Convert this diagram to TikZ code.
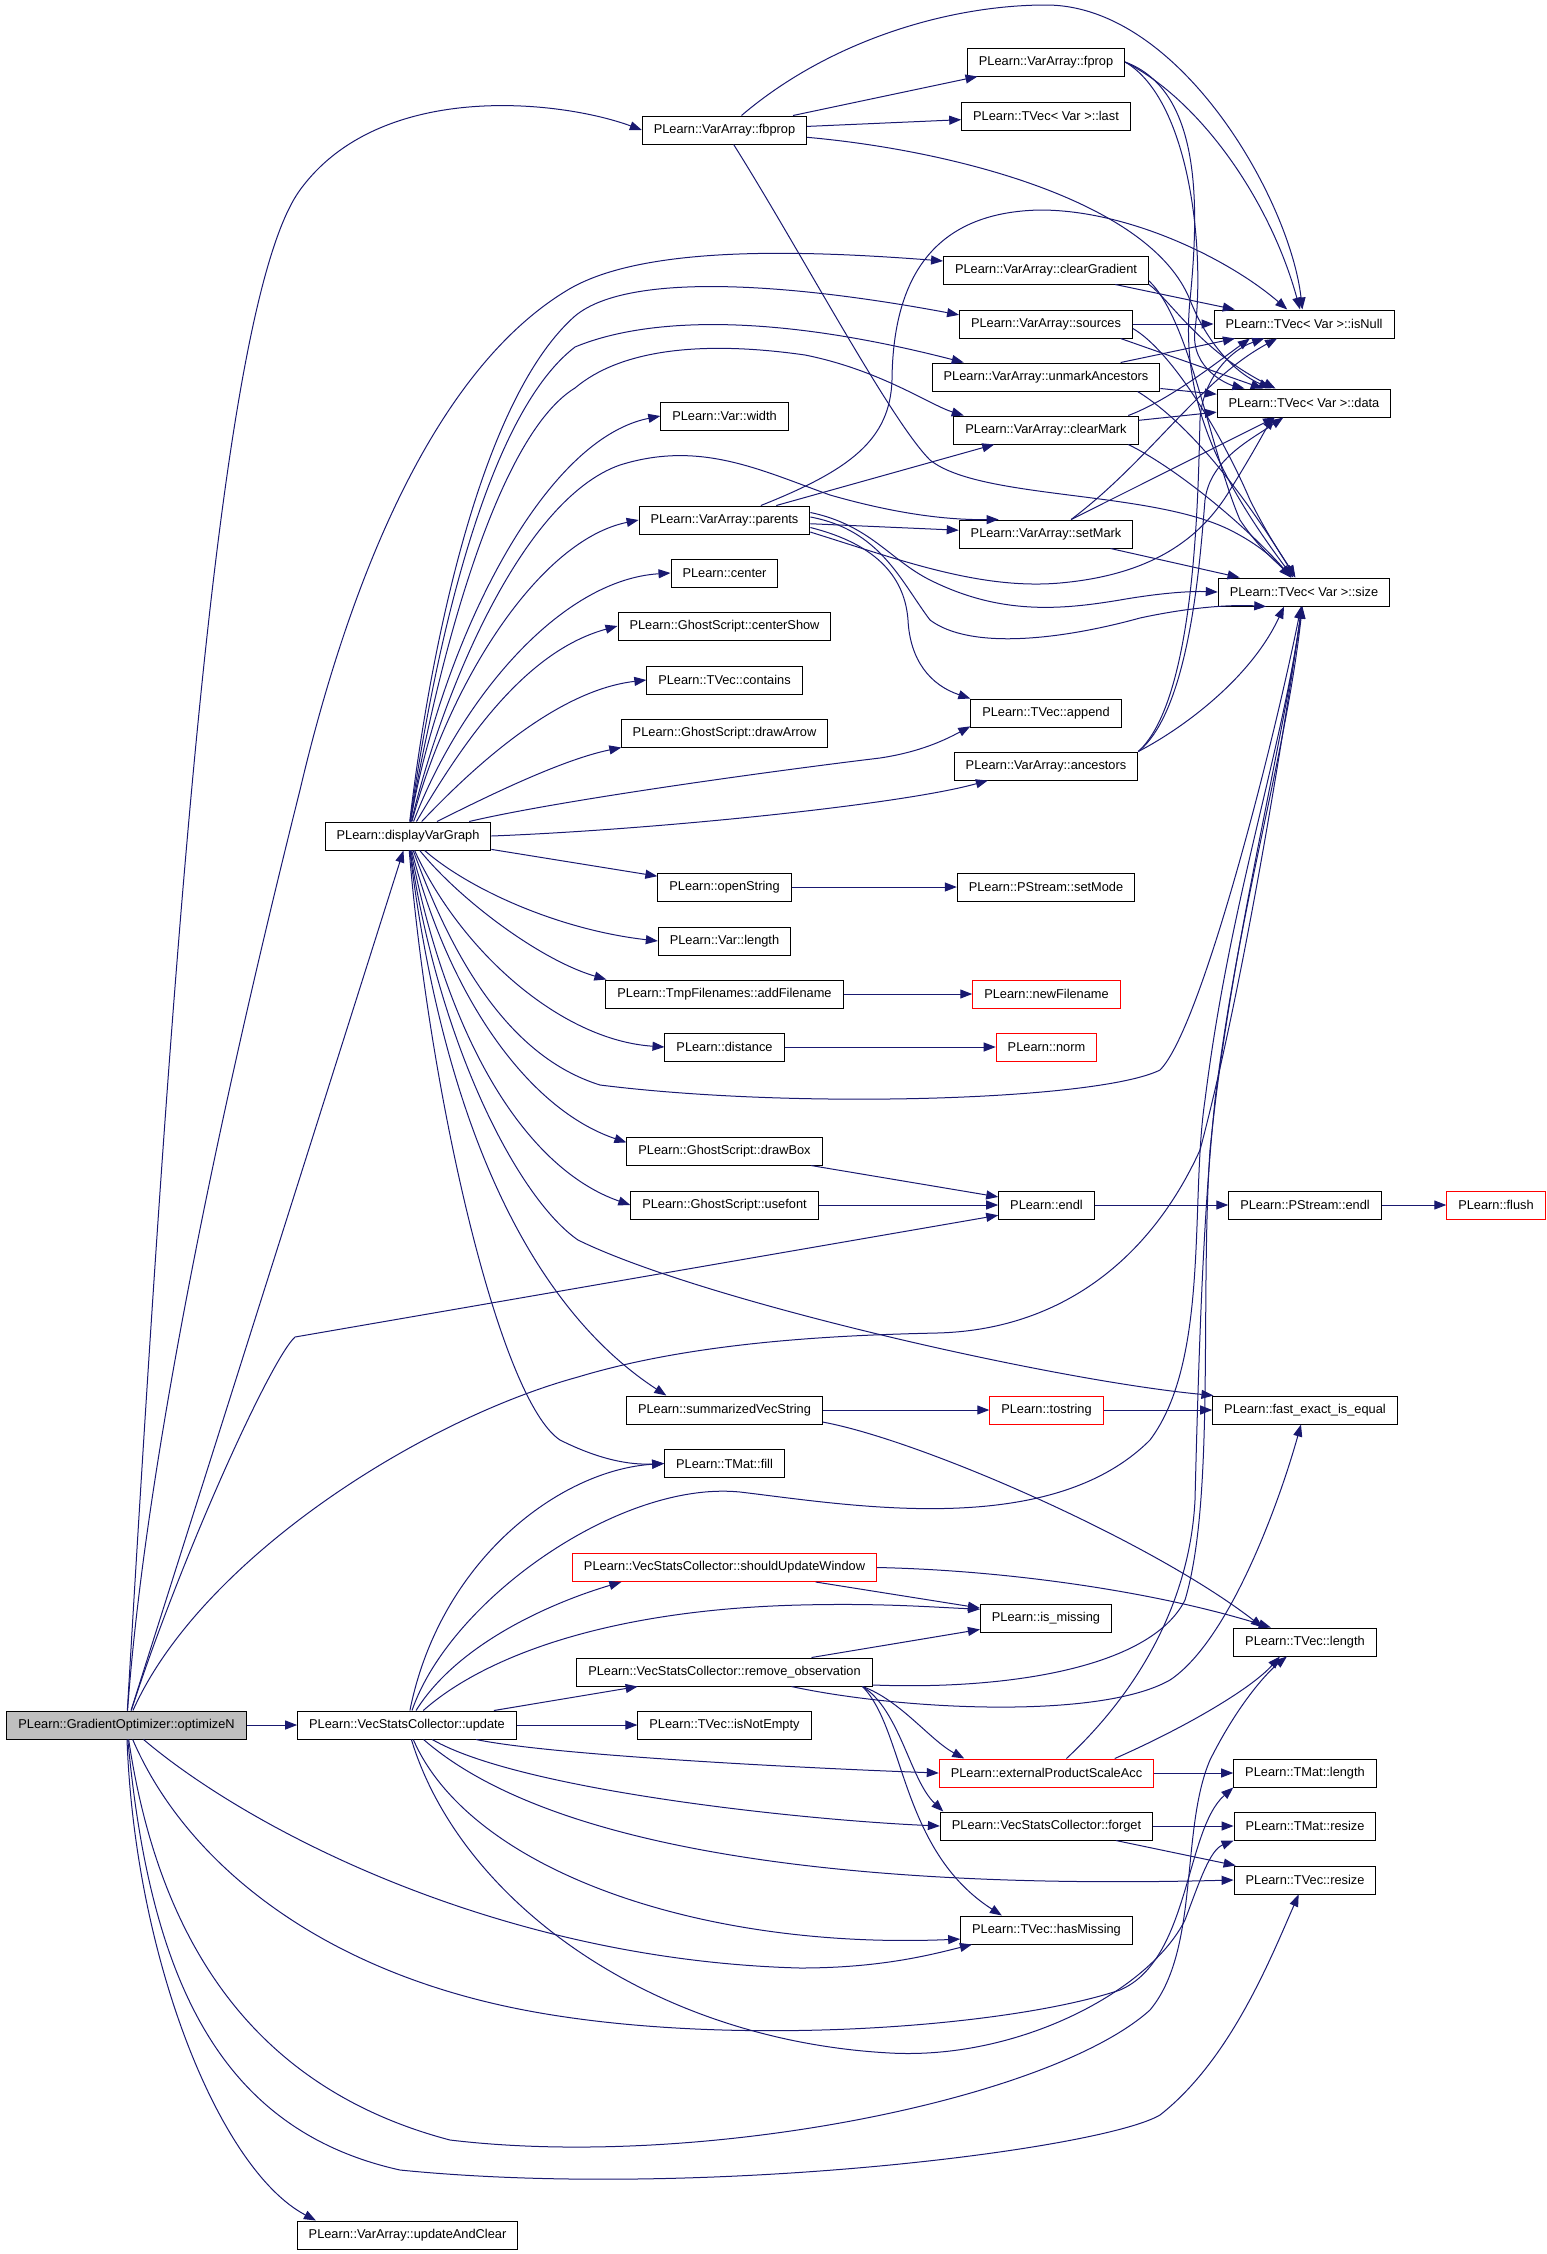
\documentclass[tikz,border=0pt]{standalone}
\usepackage{fontspec}
\setmainfont{Liberation Sans}
\usetikzlibrary{arrows.meta}
\definecolor{edgeblue}{RGB}{25,25,112}
\definecolor{rootgray}{RGB}{191,191,191}
\begin{document}
\begin{tikzpicture}[x=1pt, y=-1pt,
  fn/.style={draw, line width=1pt, minimum height=28pt, inner xsep=11.5pt, inner ysep=0pt, font=\fontsize{12.8}{14}\selectfont},
  trunc/.style={fn, draw=red},
  root/.style={fn, fill=rootgray},
  call/.style={draw=edgeblue, line width=1pt, -{Triangle[length=12pt, width=9pt]}}]
    \useasboundingbox (0,0) rectangle (1547,2254);
    \node[root] (opt) at (126.5,1725) {PLearn::GradientOptimizer::optimizeN};
    \node[fn] (fbp) at (724.5,130) {PLearn::VarArray::fbprop};
    \node[fn] (fpr) at (1046,62) {PLearn::VarArray::fprop};
    \node[fn] (lst) at (1046,116) {PLearn::TVec< Var >::last};
    \node[fn] (cgr) at (1046,270) {PLearn::VarArray::clearGradient};
    \node[fn] (src) at (1046,324) {PLearn::VarArray::sources};
    \node[fn] (uma) at (1046,377) {PLearn::VarArray::unmarkAncestors};
    \node[fn] (cmk) at (1046,430) {PLearn::VarArray::clearMark};
    \node[fn] (isn) at (1304,324) {PLearn::TVec< Var >::isNull};
    \node[fn] (dat) at (1304,403) {PLearn::TVec< Var >::data};
    \node[fn] (wid) at (724.5,416) {PLearn::Var::width};
    \node[fn] (par) at (724.5,520) {PLearn::VarArray::parents};
    \node[fn] (smk) at (1046,534) {PLearn::VarArray::setMark};
    \node[fn] (ctr) at (724.5,573) {PLearn::center};
    \node[fn] (csh) at (724.5,626) {PLearn::GhostScript::centerShow};
    \node[fn] (cnt) at (724.5,680) {PLearn::TVec::contains};
    \node[fn] (dra) at (724.5,733) {PLearn::GhostScript::drawArrow};
    \node[fn] (app) at (1046,713) {PLearn::TVec::append};
    \node[fn] (anc) at (1046,766) {PLearn::VarArray::ancestors};
    \node[fn] (siz) at (1304,592) {PLearn::TVec< Var >::size};
    \node[fn] (dvg) at (408,836) {PLearn::displayVarGraph};
    \node[fn] (ops) at (724.5,887) {PLearn::openString};
    \node[fn] (smo) at (1046,887) {PLearn::PStream::setMode};
    \node[fn] (vln) at (724.5,941) {PLearn::Var::length};
    \node[fn] (adf) at (724.5,994) {PLearn::TmpFilenames::addFilename};
    \node[trunc] (nfn) at (1046.5,994) {PLearn::newFilename};
    \node[fn] (dst) at (724.5,1047) {PLearn::distance};
    \node[trunc] (nrm) at (1046.5,1047) {PLearn::norm};
    \node[fn] (dbx) at (724.5,1151) {PLearn::GhostScript::drawBox};
    \node[fn] (usf) at (724.5,1205) {PLearn::GhostScript::usefont};
    \node[fn] (edl) at (1046.5,1205) {PLearn::endl};
    \node[fn] (pen) at (1305,1205) {PLearn::PStream::endl};
    \node[trunc] (fls) at (1496,1205) {PLearn::flush};
    \node[fn] (svs) at (724.5,1410) {PLearn::summarizedVecString};
    \node[trunc] (tos) at (1046.5,1410) {PLearn::tostring};
    \node[fn] (fee) at (1305,1410) {PLearn::fast\_exact\_is\_equal};
    \node[fn] (fil) at (724.5,1463.5) {PLearn::TMat::fill};
    \node[trunc] (suw) at (724.5,1567.5) {PLearn::VecStatsCollector::shouldUpdateWindow};
    \node[fn] (ism) at (1046,1618.5) {PLearn::is\_missing};
    \node[fn] (tvl) at (1305,1642) {PLearn::TVec::length};
    \node[fn] (rob) at (724.5,1672) {PLearn::VecStatsCollector::remove\_observation};
    \node[fn] (upd) at (407,1725) {PLearn::VecStatsCollector::update};
    \node[fn] (ine) at (724.5,1725) {PLearn::TVec::isNotEmpty};
    \node[trunc] (eps) at (1046.5,1773) {PLearn::externalProductScaleAcc};
    \node[fn] (tml) at (1305,1773) {PLearn::TMat::length};
    \node[fn] (fgt) at (1046.5,1826) {PLearn::VecStatsCollector::forget};
    \node[fn] (tmr) at (1305,1826) {PLearn::TMat::resize};
    \node[fn] (tvr) at (1305,1880) {PLearn::TVec::resize};
    \node[fn] (hsm) at (1046.5,1930) {PLearn::TVec::hasMissing};
    \node[fn] (uac) at (407.5,2235) {PLearn::VarArray::updateAndClear};
    \draw[call] (opt) .. controls (175,900) and (220,300) .. (300,190) .. controls (380,80) and (560,100) .. (fbp.west);
    \draw[call] (opt) .. controls (150,1400) and (260,950) .. (300,790) .. controls (340,620) and (420,380) .. (566,291) .. controls (640,245) and (800,250) .. (cgr.175);
    \draw[call] (opt) -- (dvg);
    \draw[call] (opt) -- (upd);
    \draw[call] (opt) .. controls (180,1560) and (270,1360) .. (295,1337) -- (edl.192);
    \draw[call] (opt) .. controls (200,1560) and (420,1420) .. (578,1377) .. controls (700,1340) and (850,1335) .. (937,1333) .. controls (1060,1330) and (1150,1260) .. (1200,1150) .. controls (1240,1000) and (1280,760) .. (siz);
    \draw[call] (opt) .. controls (250,1830) and (500,1960) .. (800,1968) .. controls (880,1968) and (930,1955) .. (hsm.191);
    \draw[call] (opt) .. controls (180,1850) and (300,1960) .. (500,2005) .. controls (700,2050) and (1000,2030) .. (1120,1990) .. controls (1190,1960) and (1185,1830) .. (tml.south west);
    \draw[call] (opt) .. controls (160,1950) and (260,2090) .. (450,2140) .. controls (700,2170) and (1050,2100) .. (1150,2010) .. controls (1200,1950) and (1180,1830) .. (1210,1760) .. controls (1240,1700) and (1270,1670) .. (tvl);
    \draw[call] (opt) .. controls (150,1980) and (220,2130) .. (400,2170) .. controls (700,2200) and (1100,2150) .. (1160,2115) .. controls (1230,2060) and (1270,1960) .. (tvr);
    \draw[call] (opt) .. controls (135,1960) and (220,2170) .. (uac.171);
    \draw[call] (upd) .. controls (440,1560) and (560,1470) .. (fil.west);
    \draw[call] (upd) .. controls (450,1600) and (620,1480) .. (740,1492) .. controls (850,1505) and (1050,1540) .. (1150,1440) .. controls (1210,1360) and (1190,1200) .. (1205,1100) .. controls (1230,900) and (1280,760) .. (siz);
    \draw[call] (upd) .. controls (460,1640) and (560,1600) .. (suw.188);
    \draw[call] (upd) .. controls (480,1660) and (600,1610) .. (800,1605) .. controls (880,1603) and (930,1607) .. (ism.172);
    \draw[call] (upd) -- (rob);
    \draw[call] (upd) -- (ine);
    \draw[call] (upd) .. controls (550,1755) and (800,1768) .. (eps.west);
    \draw[call] (upd) .. controls (520,1790) and (800,1820) .. (fgt.west);
    \draw[call] (upd) .. controls (550,1850) and (850,1890) .. (tvr.west);
    \draw[call] (upd) .. controls (470,1870) and (700,1950) .. (hsm.186);
    \draw[call] (upd) .. controls (460,1900) and (650,2040) .. (890,2053) .. controls (1020,2060) and (1150,1990) .. (1185,1920) .. controls (1200,1880) and (1210,1850) .. (tmr.south west);
    \draw[call] (fbp) -- (fpr);
    \draw[call] (fbp) -- (lst);
    \draw[call] (fbp) .. controls (830,40) and (950,5) .. (1046,5) .. controls (1180,5) and (1290,200) .. (isn);
    \draw[call] (fbp) .. controls (950,150) and (1150,200) .. (1190,300) .. controls (1210,350) and (1240,375) .. (dat);
    \draw[call] (fbp) .. controls (800,250) and (890,420) .. (930,460) .. controls (980,500) and (1150,490) .. (1230,530) .. controls (1260,545) and (1275,560) .. (siz);
    \draw[call] (fpr.east) .. controls (1200,100) and (1270,200) .. (isn);
    \draw[call] (fpr.east) .. controls (1190,100) and (1205,250) .. (1195,330) .. controls (1190,370) and (1230,385) .. (dat);
    \draw[call] (fpr.east) .. controls (1200,90) and (1200,200) .. (1190,300) .. controls (1180,400) and (1220,480) .. (siz);
    \draw[call] (cgr) -- (isn);
    \draw[call] (cgr.-8) .. controls (1170,300) and (1200,350) .. (dat);
    \draw[call] (cgr.-6) .. controls (1190,320) and (1210,450) .. (1240,520) .. controls (1260,550) and (1280,565) .. (siz);
    \draw[call] (src) -- (isn);
    \draw[call] (src.-11) -- (dat);
    \draw[call] (src.-3) .. controls (1170,350) and (1220,430) .. (1250,500) .. controls (1270,540) and (1285,560) .. (siz);
    \draw[call] (uma.11) -- (isn);
    \draw[call] (uma) -- (dat);
    \draw[call] (uma.-9) .. controls (1200,430) and (1260,520) .. (siz);
    \draw[call] (cmk.10) .. controls (1170,400) and (1220,360) .. (isn.195);
    \draw[call] (cmk) -- (dat);
    \draw[call] (cmk.-10) .. controls (1180,470) and (1250,530) .. (siz);
    \draw[call] (smk.30) .. controls (1150,460) and (1200,380) .. (isn);
    \draw[call] (smk.30) -- (dat);
    \draw[call] (smk) -- (siz);
    \draw[call] (anc.north east) .. controls (1195,700) and (1198,500) .. (1200,420) .. controls (1202,380) and (1230,350) .. (isn.200);
    \draw[call] (anc.north east) .. controls (1190,710) and (1200,560) .. (1205,500) .. controls (1210,460) and (1250,440) .. (dat.215);
    \draw[call] (anc.north east) .. controls (1180,730) and (1250,680) .. (siz.216);
    \draw[call] (par) .. controls (850,470) and (890,440) .. (892,380) .. controls (893,270) and (940,212) .. (1040,210) .. controls (1130,210) and (1230,260) .. (isn);
    \draw[call] (par) -- (cmk);
    \draw[call] (par) -- (smk);
    \draw[call] (par.5) .. controls (870,525) and (890,560) .. (930,580) .. controls (1000,615) and (1060,610) .. (1120,600) .. controls (1160,593) and (1190,591) .. (siz.west);
    \draw[call] (par.2) .. controls (880,530) and (900,580) .. (930,620) .. controls (970,650) and (1060,640) .. (1140,618) .. controls (1200,605) and (1240,605) .. (siz.201);
    \draw[call] (par.-8) .. controls (900,560) and (980,590) .. (1060,583) .. controls (1150,575) and (1200,540) .. (1230,490) .. controls (1255,450) and (1265,430) .. (dat.206);
    \draw[call] (par.-5) .. controls (880,545) and (905,580) .. (908,620) .. controls (910,660) and (930,685) .. (app.north west);
    \draw[call] (dvg) .. controls (430,650) and (480,400) .. (575,316) .. controls (630,270) and (800,285) .. (src.174);
    \draw[call] (dvg) .. controls (430,680) and (480,420) .. (575,347) .. controls (640,320) and (760,310) .. (uma.170);
    \draw[call] (dvg) .. controls (430,700) and (490,440) .. (575,388) .. controls (620,350) and (700,340) .. (805,355) .. controls (880,370) and (930,405) .. (cmk.170);
    \draw[call] (dvg) .. controls (440,650) and (540,440) .. (wid.west);
    \draw[call] (dvg) .. controls (440,700) and (520,500) .. (620,465) .. controls (700,440) and (760,470) .. (830,495) .. controls (900,515) and (950,520) .. (smk.163);
    \draw[call] (dvg) .. controls (450,680) and (540,540) .. (par.west);
    \draw[call] (dvg) .. controls (460,700) and (560,580) .. (ctr.west);
    \draw[call] (dvg) .. controls (470,730) and (530,650) .. (csh.west);
    \draw[call] (dvg) .. controls (480,760) and (560,690) .. (cnt.west);
    \draw[call] (dvg) .. controls (480,800) and (560,760) .. (dra.188);
    \draw[call] (dvg) .. controls (560,800) and (780,770) .. (880,758) .. controls (920,752) and (945,740) .. (app.190);
    \draw[call] (dvg.east) .. controls (650,830) and (900,805) .. (anc.194);
    \draw[call] (dvg) -- (ops);
    \draw[call] (dvg) .. controls (470,890) and (560,930) .. (vln.west);
    \draw[call] (dvg) .. controls (460,900) and (540,960) .. (adf.173);
    \draw[call] (dvg) .. controls (460,950) and (560,1040) .. (dst.west);
    \draw[call] (dvg) .. controls (460,980) and (520,1060) .. (600,1085) .. controls (800,1110) and (1100,1100) .. (1160,1070) .. controls (1200,1030) and (1270,760) .. (siz);
    \draw[call] (dvg) .. controls (450,1000) and (530,1110) .. (dbx.175);
    \draw[call] (dvg) .. controls (450,1050) and (530,1170) .. (usf.west);
    \draw[call] (dvg) .. controls (440,1050) and (520,1200) .. (578,1240) .. controls (700,1300) and (1050,1380) .. (fee.171);
    \draw[call] (dvg) .. controls (440,1100) and (520,1300) .. (svs.166);
    \draw[call] (dvg) .. controls (430,1100) and (500,1400) .. (560,1440) .. controls (600,1460) and (630,1465) .. (fil.west);
    \draw[call] (ops) -- (smo);
    \draw[call] (adf) -- (nfn);
    \draw[call] (dst) -- (nrm);
    \draw[call] (dbx) -- (edl);
    \draw[call] (usf) -- (edl);
    \draw[call] (edl) -- (pen);
    \draw[call] (pen) -- (fls);
    \draw[call] (svs) -- (tos);
    \draw[call] (tos) -- (fee);
    \draw[call] (svs.-7) .. controls (920,1440) and (1150,1540) .. (tvl.161);
    \draw[call] (suw) -- (ism);
    \draw[call] (suw.east) .. controls (1000,1570) and (1150,1590) .. (tvl.157);
    \draw[call] (rob) -- (ism);
    \draw[call] (rob.-5) .. controls (1000,1690) and (1150,1670) .. (1185,1600) .. controls (1215,1500) and (1200,1300) .. (1210,1150) .. controls (1230,950) and (1280,760) .. (siz);
    \draw[call] (rob) .. controls (900,1710) and (1100,1720) .. (1170,1680) .. controls (1230,1640) and (1280,1500) .. (fee);
    \draw[call] (rob.-6) .. controls (900,1700) and (930,1740) .. (eps.170);
    \draw[call] (rob.-6) .. controls (900,1710) and (910,1780) .. (fgt.172);
    \draw[call] (rob.-6) .. controls (905,1730) and (900,1850) .. (hsm.162);
    \draw[call] (eps.36) .. controls (1140,1690) and (1190,1600) .. (1195,1500) .. controls (1200,1300) and (1205,1200) .. (1215,1100) .. controls (1240,900) and (1285,760) .. (siz);
    \draw[call] (eps.12) .. controls (1180,1730) and (1250,1690) .. (tvl.210);
    \draw[call] (eps) -- (tml);
    \draw[call] (fgt) -- (tmr);
    \draw[call] (fgt) -- (tvr);
\end{tikzpicture}
\end{document}
